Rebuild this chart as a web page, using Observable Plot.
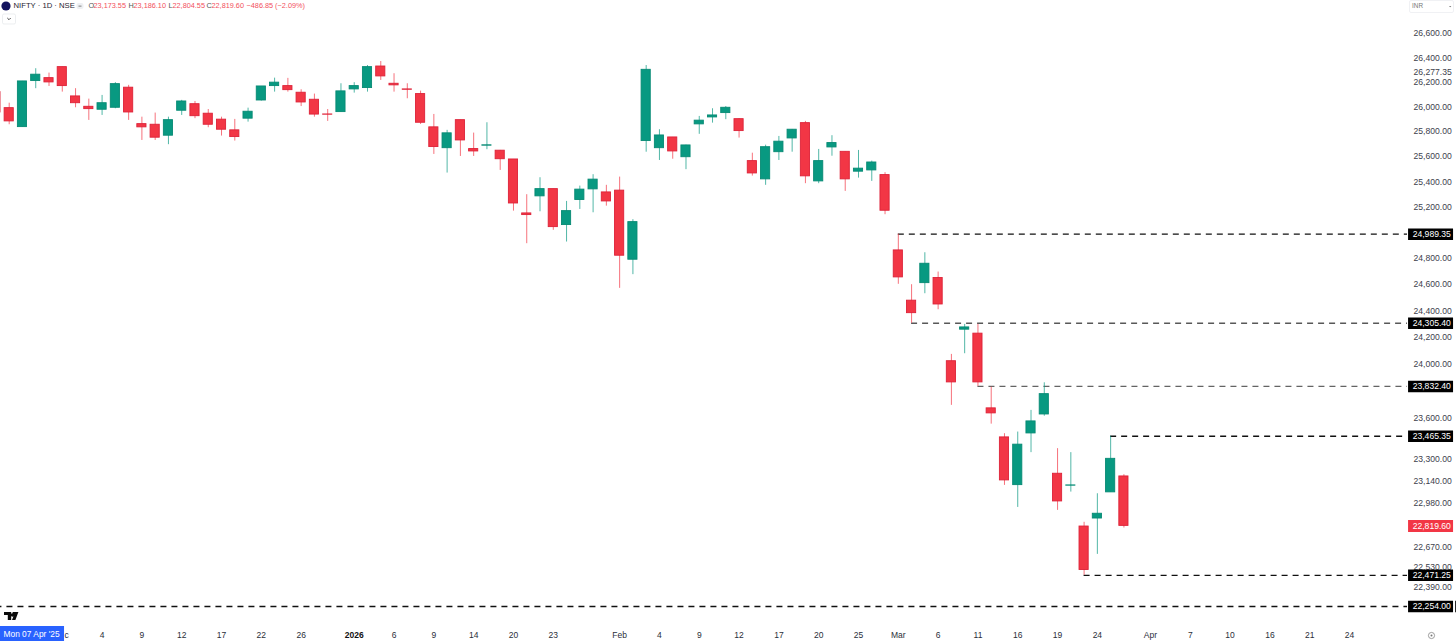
<!DOCTYPE html>
<html><head><meta charset="utf-8">
<style>
html,body{margin:0;padding:0;background:#fff}
#wrap{position:relative;width:1456px;height:642px;overflow:hidden}
#wrap svg{display:block}
.ov{position:absolute;left:0;top:0;pointer-events:none}
</style>
<script src="https://cdn.jsdelivr.net/npm/d3@7"></script>
<script src="https://cdn.jsdelivr.net/npm/@observablehq/plot@0.6"></script>
</head><body><div id="wrap"></div>
<svg class="ov" width="1456" height="642" viewBox="0 0 1456 642">
  <circle cx="6" cy="6" r="4.6" fill="#13135e"/>
  <rect x="76.5" y="3" width="7" height="6" rx="2" fill="#eef0f3"/>
  <rect x="78.5" y="5.7" width="3" height=".8" fill="#666"/>
  <rect x="2.5" y="14" width="13" height="10" rx="1.5" fill="none" stroke="#e4e6ea" stroke-width=".7"/>
  <path d="M7.3 18l1.7 1.7 1.7-1.7" fill="none" stroke="#333" stroke-width=".9"/>
  <rect x="1409.5" y="0.5" width="44" height="12" rx="1.5" fill="none" stroke="#eceef1" stroke-width=".8"/>
  <path d="M1449 6l1.2 1.3 1.2-1.3z" fill="#777"/>
  <path d="M4 612h7.2v8h-3.4v-5H4zM12.7 612l3.1 0 2.6 0-3 8h-3.4l2.2-5.6a1.7 1.7 0 1 1-1.7-1.2z" fill="#0b0b0b"/>
  <circle cx="1431.5" cy="635.5" r="3.1" fill="none" stroke="#777" stroke-width=".7"/>
  <circle cx="1431.5" cy="635.5" r="1" fill="#777"/>
</svg>
<script>
// Session index of the first listed candle (-1 is the one cut by the left edge)
const firstSession = -1;
const opens = [26119,25989,25836,26209,26233,26323,26084,26000,25976,25992,26155,25860,25855,25767,25968,26021,25944,25896,25810,25904,26051,26168,26168,26114,26057,25938,25957,26141,26152,26328,26187,26141,26103,25834,25667,25892,25660,25687,25647,25577,25151,25285,25342,25060,25256,25340,25316,25330,24791,25724,25667,25753,25595,25858,25914,25949,25900,25564,25419,25635,25745,25868,25403,25673,25638,25480,25490,25453,24863,24477,24611,24650,24020,24257,24227,23670,23457,23111,23486,23625,23193,23107,22815,22872,23059,23173.55];
const highs = [26149,26029,26206,26310,26274,26323,26147,26062,26092,26196,26174,25916,25949,25916,26052,26043,25978,25916,25898,25989,26165,26233,26231,26138,26103,25978,26187,26196,26336,26369,26269,26187,26127,25938,25810,25892,25788,25871,25649,25577,25298,25432,25342,25245,25366,25456,25372,25437,25102,26336,25815,25753,25691,25922,25984,26002,25904,25627,25691,25761,25817,25882,25657,25767,25638,25649,25564,25472,24989.35,24599,24845,24696,24071,24297,24297,23827,23484,23496,23655,23859,23375,23346,22845,23049,23465.35,23186.10];
const lows = [25921,25855,25836,26147,26165,26119,25992,25890,25930,25984,25890,25729,25729,25695,25930,25904,25831,25764,25724,25876,26046,26119,26119,26002,25916,25882,25957,26111,26119,26214,26119,26065,25857,25617,25469,25601,25601,25655,25490,25169,24915,25164,25019,24928,25182,25156,25208,24571,24676,25635,25569,25579,25496,25778,25868,25896,25748,25445,25372,25569,25635,25385,25385,25603,25324,25429,25403,25141,24602,24305.4,24530,24408,23692,24076,23832.4,23554,23109,22951,23346,23612,22930,23061,22471.25,22618,23059,22804.55];
const closes = [25954,25882,26206,26261,26198,26168,26029,25981,26029,26184,25954,25834,25751,25892,26043,25924,25855,25815,25756,25960,26165,26196,26135,26035,25937,25936,26125,26168,26323,26247,26174,26138,25871,25676,25786,25729,25641,25690,25579,25229,25138,25342,25044,25169,25338,25417,25245,24822,25083,26301,25769,25641,25689,25888,25930,25992,25804,25466,25675,25719,25815,25443,25564,25708,25419,25504,25553,25172,24655,24382,24760,24448,23862,24274,23862,23633,23145,23404,23574,23775,22994,23109,22508,22906,23301,22819.60];

// Price axis
const plainTicks = [26600,26400,26277.35,26200,26000,25800,25600,25400,25200,24800,24600,24400,24200,24000,23600,23300,23140,22980,22670,22530,22390];
const levels = [24989.35,24305.40,23832.40,23465.35,22471.25,22254.00];
const levelStarts = [67,68,73,83,81,-1];
const levelShade = [1,.7,.65,1,1,1];
const lastPrice = 22819.60;

// Time axis
const xTicks = [4.32,7,10,13,16,19,22,29,32,35,38,41,46,49,52,55,58,61,64,67,70,73,76,79,82,86,89,92,95,98,101];
const xLabels = ["c","4","9","12","17","22","26","6","9","14","20","23","Feb","4","9","12","17","20","25","Mar","6","11","16","19","24","Apr","7","10","16","21","24"];
const yearTick = 26, yearLabel = "2026";

// Legend
const headerParts = [
  {t:"NIFTY · 1D · NSE",x:13,c:"#1f2430",s:7.7},
  {t:"O",x:88,c:"#555",s:7.3},{t:"23,173.55",x:93,c:"#f2505d",s:7.3},
  {t:"H",x:128,c:"#555",s:7.3},{t:"23,186.10",x:133,c:"#f2505d",s:7.3},
  {t:"L",x:168,c:"#555",s:7.3},{t:"22,804.55",x:172,c:"#f2505d",s:7.3},
  {t:"C",x:206,c:"#555",s:7.3},{t:"22,819.60",x:211,c:"#f2505d",s:7.3},
  {t:"−486.85 (−2.09%)",x:246,c:"#f2505d",s:7.3}
];

const UP="#089981", DOWN="#f23645", UPE="#078a74", DOWNE="#dd2238";
const candles = opens.map((o,k)=>({i:firstSession+k,o,h:highs[k],l:lows[k],c:closes[k]}));
const col = d=>d.c>=d.o?UP:DOWN;
const edge = d=>d.c>=d.o?UPE:DOWNE;
const fmt = d3.format(",.2f");
const font = "'Liberation Sans',Arial,sans-serif";
const tagL=105.45, tagR=108.84, dashEnd=105.37;

const chart = Plot.plot({
  width:1456, height:642,
  marginLeft:0, marginRight:49, marginTop:0, marginBottom:14,
  style:{fontFamily:font,background:"#fff"},
  x:{type:"linear",domain:[0,105.37],range:[8.7,1407],label:null},
  y:{type:"log",domain:[22254,26600],range:[606,33],label:null},
  marks:[
    Plot.axisX({ticks:xTicks,label:null,tickSize:0,tickPadding:3,fontSize:8.5,fill:"#2a2e39",tickFormat:d=>xLabels[xTicks.indexOf(d)],textAnchor:"middle"}),
    Plot.axisX({ticks:[yearTick],label:null,tickSize:0,tickPadding:3,fontSize:8.5,fontWeight:"bold",fill:"#111",tickFormat:()=>yearLabel}),
    Plot.axisY({anchor:"right",ticks:plainTicks,label:null,tickSize:0,tickPadding:6,fontSize:8.6,fill:"#3d414c",tickFormat:fmt}),
    // levels
    Plot.ruleY(levels,{y:d=>d,x1:(d,k)=>levelStarts[k],x2:dashEnd,stroke:"#111",strokeOpacity:(d,k)=>levelShade[k],strokeWidth:1.3,strokeDasharray:"6,5"}),
    // wicks
    Plot.ruleX(candles,{x:"i",y1:"l",y2:"h",stroke:col,strokeWidth:1,strokeOpacity:.7}),
    // bodies
    Plot.rect(candles,{x1:d=>d.i-.345,x2:d=>d.i+.345,y1:"o",y2:"c",fill:col,stroke:edge,strokeWidth:.9}),
    // price tags
    Plot.ruleY(levels,{y:d=>d,x1:tagL,x2:tagR,stroke:"#000",strokeWidth:11.5}),
    Plot.ruleY([levels[5]],{y:d=>d,x1:109,x2:110,stroke:"#000",strokeWidth:11.5}),
    Plot.ruleY([lastPrice],{y:d=>d,x1:tagL,x2:tagR,stroke:"#f23645",strokeWidth:12}),
    Plot.text([...levels,lastPrice],{x:tagR-.2,y:d=>d,text:fmt,fill:"#fff",fontSize:8.6,textAnchor:"end"}),
    // legend
    ...headerParts.map(p=>Plot.text([p.t],{frameAnchor:"top-left",dx:p.x,dy:2.5,fill:p.c,fontSize:p.s,textAnchor:"start",lineAnchor:"top"})),
    Plot.text(["INR"],{frameAnchor:"top-left",dx:1411.5,dy:3,fill:"#777",fontSize:6.4,textAnchor:"start",lineAnchor:"top"}),
    // crosshair date
    Plot.ruleY([22254],{y:d=>d,x1:-1,x2:4.17,dy:27,stroke:"#2962ff",strokeWidth:15}),
    Plot.text(["Mon 07 Apr '25"],{frameAnchor:"bottom-left",dx:3,dy:5.5,fill:"#fff",fontSize:8.4,textAnchor:"start",lineAnchor:"middle"})
  ]
});
document.getElementById("wrap").append(chart);
</script></body></html>
